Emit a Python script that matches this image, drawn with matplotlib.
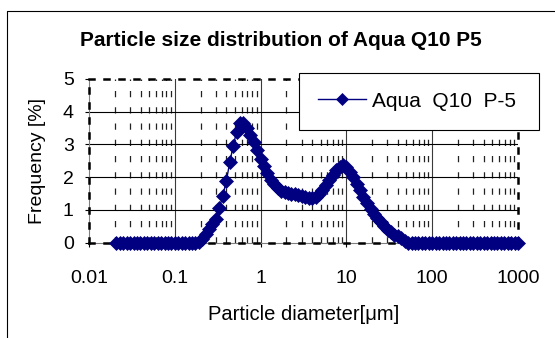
import matplotlib
matplotlib.use('Agg')
import matplotlib.pyplot as plt
from matplotlib.lines import Line2D
from matplotlib.ticker import NullLocator

plt.rcParams['font.family'] = ['Liberation Sans', 'DejaVu Sans']

# ---- data ----
diameter_um = [
    0.0209, 0.0229, 0.0251, 0.0275, 0.0302, 0.0331, 0.0363, 0.0398, 0.0437, 0.0479,
    0.0525, 0.0575, 0.0631, 0.0692, 0.0759, 0.0832, 0.0912,
    0.100, 0.110, 0.120, 0.132, 0.145, 0.158, 0.174, 0.191, 0.209, 0.229,
    0.251, 0.275, 0.302, 0.331, 0.363, 0.398, 0.437, 0.479, 0.525, 0.575,
    0.631, 0.692, 0.759, 0.832, 0.912,
    1.00, 1.10, 1.20, 1.32, 1.45, 1.58, 1.74, 1.91, 2.09, 2.29,
    2.51, 2.75, 3.02, 3.31, 3.63, 3.98, 4.37, 4.79, 5.25, 5.75,
    6.31, 6.92, 7.59, 8.32, 9.12,
    10.0, 11.0, 12.0, 13.2, 14.5, 15.8, 17.4, 19.1, 20.9, 22.9,
    25.1, 27.5, 30.2, 33.1, 36.3, 39.8, 43.7, 47.9, 52.5, 57.5,
    63.1, 69.2, 75.9, 83.2, 91.2,
    100, 110, 120, 132, 145, 158, 174, 191, 209, 229,
    251, 275, 302, 331, 363, 398, 437, 479, 525, 575,
    631, 692, 759, 832, 912,
    1000,
]
frequency_pct = [
    0, 0, 0, 0, 0, 0, 0, 0, 0, 0,
    0, 0, 0, 0, 0, 0, 0,
    0, 0, 0, 0, 0, 0, 0, 0.02, 0.10, 0.26,
    0.42, 0.56, 0.73, 1.07, 1.44, 1.88, 2.45, 2.96, 3.39, 3.65,
    3.66, 3.50, 3.30, 3.08, 2.82,
    2.55, 2.35, 2.13, 1.93, 1.78, 1.66, 1.58, 1.54, 1.52, 1.50,
    1.49, 1.47, 1.44, 1.41, 1.38, 1.37, 1.39, 1.48, 1.60, 1.75,
    1.92, 2.08, 2.22, 2.32, 2.36,
    2.30, 2.17, 2.00, 1.80, 1.60, 1.40, 1.20, 1.03, 0.88, 0.75,
    0.62, 0.50, 0.40, 0.32, 0.25, 0.19, 0.13, 0.05, 0, 0,
    0, 0, 0, 0, 0,
    0, 0, 0, 0, 0, 0, 0, 0, 0, 0,
    0, 0, 0, 0, 0, 0, 0, 0, 0, 0,
    0, 0, 0, 0, 0,
    0,
]
series_name = 'Aqua  Q10  P-5'
title_text = 'Particle size distribution of Aqua Q10 P5'
x_label = 'Particle diameter[\u03bcm]'
y_label = 'Frequency [%]'
x_tick_values = [0.01, 0.1, 1, 10, 100, 1000]
x_tick_labels = ['0.01', '0.1', '1', '10', '100', '1000']
y_tick_values = [0, 1, 2, 3, 4, 5]
decades = [0.01, 0.1, 1, 10, 100]
minor_multipliers = [2, 3, 4, 5, 6, 7, 8, 9]

W, H = 555, 338
fig = plt.figure(figsize=(W / 100, H / 100), dpi=100)
fig.patch.set_facecolor('white')

left, right, top, bottom = 89, 518, 79, 242.7
ax = fig.add_axes([left / W, 1 - bottom / H, (right - left) / W, (bottom - top) / H])
ax.set_xscale('log')
ax.set_xlim(0.01, 1000)
ax.set_ylim(0, 5)

# grid
for d in decades:
    for m in minor_multipliers:
        ax.axvline(d * m, color='#222222', lw=0.9, ls=(0, (5, 8)), zorder=1)
for v in x_tick_values[1:-1]:
    ax.axvline(v, color='#3a3a3a', lw=0.8, zorder=1.5)
for v in y_tick_values[1:-1]:
    ax.axhline(v, color='black', lw=0.8, zorder=1.5)

# thin axis lines
ax.axhline(0, color='#808080', lw=0.8, zorder=2, clip_on=False)
ax.axvline(0.01, color='#808080', lw=0.8, zorder=2, clip_on=False)

for s in ax.spines.values():
    s.set_linestyle((0, (2, 4)))
    s.set_linewidth(1.8)
    s.set_color('black')
    s.set_zorder(3)

ax.plot(diameter_um, frequency_pct, color='#000080', lw=1.0, marker='D', ms=6.8,
        mfc='#000080', mec='#000080', mew=0.5, clip_on=False, zorder=5, label=series_name)

ax.set_xticks(x_tick_values, x_tick_labels)
ax.xaxis.set_minor_locator(NullLocator())
ax.set_yticks(y_tick_values)
ax.tick_params(axis='x', which='major', length=3, width=0.8, direction='out', pad=17, labelsize=14)
ax.tick_params(axis='y', which='major', length=3, width=0.8, direction='out', pad=8, labelsize=14)

fig.text(281 / W, 1 - 41 / H, title_text, ha='center', va='center', fontsize=15, fontweight='bold')
fig.text(303.5 / W, 1 - 315 / H, x_label, ha='center', va='center', fontsize=14.5)
fig.text(38 / W, 1 - 161 / H, y_label, ha='center', va='center', rotation=90, fontsize=14)

leg = ax.legend(loc='upper left', bbox_to_anchor=(299 / W, 1 - 73 / H, 240 / W, 0),
                bbox_transform=fig.transFigure, mode='expand', borderaxespad=0,
                fontsize=15, frameon=True, fancybox=False, framealpha=1, edgecolor='black',
                borderpad=0.9, handlelength=2.3, handletextpad=0.3, markerscale=0.9)
leg.get_frame().set_linewidth(0.8)
leg.set_zorder(10)

# outer chart frame
fig.add_artist(Line2D([6.5 / W, 6.5 / W, 1.0], [0.0, 1 - 10.5 / H, 1 - 10.5 / H],
                      transform=fig.transFigure, color='black', lw=0.8))

fig.savefig('out.png', dpi=100, facecolor='white')
